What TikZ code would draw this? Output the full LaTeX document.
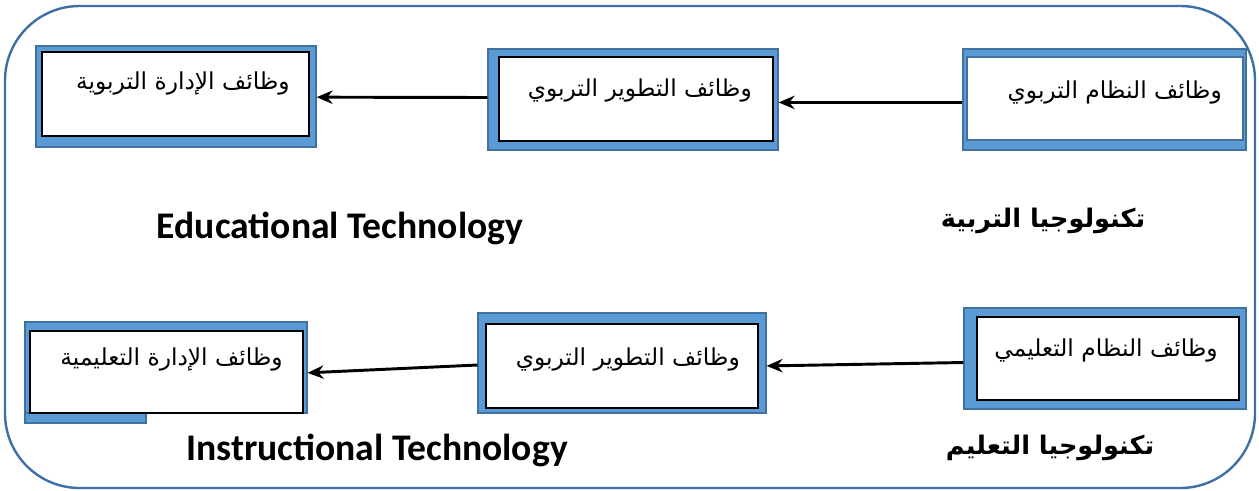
\documentclass[tikz,border=0pt]{standalone}
\usepackage{fontspec}
\usetikzlibrary{fit,arrows.meta}
\TeXXeTstate=1
\newfontfamily\arabicfont[Script=Arabic]{DejaVu Sans}
\newfontfamily\carlito{Carlito}
\definecolor{framec}{HTML}{3E70A6}
\definecolor{boxfill}{HTML}{5B9BD5}
\definecolor{boxedge}{HTML}{41719C}
\tikzset{
  blueframe/.style={inner sep=0pt, fill=boxfill, draw=boxedge, line width=0.8pt},
  innerbox/.style={inner sep=0pt, fill=white, draw=black, line width=0.8pt},
  artext/.style={anchor=east, inner sep=0pt, font=\arabicfont\fontsize{17.5}{20}\selectfont},
  entitle/.style={inner sep=0pt, font=\carlito\bfseries\fontsize{28.2}{32}\selectfont},
  artitle/.style={inner sep=0pt, font=\arabicfont\bfseries\fontsize{19.2}{22}\selectfont},
  arr/.style={line width=2.2pt, -{Stealth[length=12pt,width=10pt]}}
}
\begin{document}
\begin{tikzpicture}[x=0.75pt,y=-0.75pt]
\useasboundingbox (0,0) rectangle (1259,490);
\fill[white] (0,0) rectangle (1259,490);
% outer frame
\draw[framec, line width=1.8pt, rounded corners=56pt] (5,6) rectangle (1255,488);
% top row
\node[blueframe, fit={(36,46) (316,147)}] (b1) {};
\node[innerbox, fit={(42,52) (309,136)}] (b1i) {};
\node[artext] (t1) at (290,83) {\beginR وظائف الإدارة التربوية\endR};
\node[blueframe, fit={(488,49) (778,150)}] (b2) {};
\node[innerbox, fit={(499,57) (773,141)}] (b2i) {};
\node[artext] (t2) at (752,90) {\beginR وظائف التطوير التربوي\endR};
\node[blueframe, fit={(963,49) (1246,150)}] (b3) {};
\node[innerbox, draw=boxedge, fit={(967,57) (1243,140)}] (b3i) {};
\node[artext] (t3) at (1222,92) {\beginR وظائف النظام التربوي\endR};
% titles
\node[entitle] (e1) at (340,228) {Educational Technology};
\node[artitle] (a1) at (1043,221) {\beginR تكنولوجيا التربية\endR};
% bottom row
\node[blueframe, fit={(25,322) (146,423)}] (b4s) {};
\node[blueframe, fit={(25,322) (307,413)}] (b4) {};
\node[innerbox, fit={(30,331) (303,413)}] (b4i) {};
\node[artext] (t4) at (283,359) {\beginR وظائف الإدارة التعليمية\endR};
\node[blueframe, fit={(478,313) (766,413)}] (b5) {};
\node[innerbox, fit={(486,324) (758,408)}] (b5i) {};
\node[artext] (t5) at (740,359) {\beginR وظائف التطوير التربوي\endR};
\node[blueframe, fit={(964,308) (1246,409)}] (b6) {};
\node[innerbox, fit={(977,317) (1239,400)}] (b6i) {};
\node[artext] (t6) at (1218,350) {\beginR وظائف النظام التعليمي\endR};
\node[entitle] (e2) at (377,450) {Instructional Technology};
\node[artitle] (a2) at (1050,448) {\beginR تكنولوجيا التعليم\endR};
% arrows
\draw[arr] ([yshift=-2.2pt]b3.west) -- ([yshift=-2.2pt]b2.east);
\draw[arr] ([yshift=1.5pt]b2.west) -- ([yshift=-0.5pt]b1.east);
\draw[arr] ([yshift=-3pt]b6.west) -- ([yshift=-2.2pt]b5.east);
\draw[arr] ([yshift=-1.5pt]b5.west) -- ([yshift=-4pt]b4.east);
\end{tikzpicture}
\end{document}
